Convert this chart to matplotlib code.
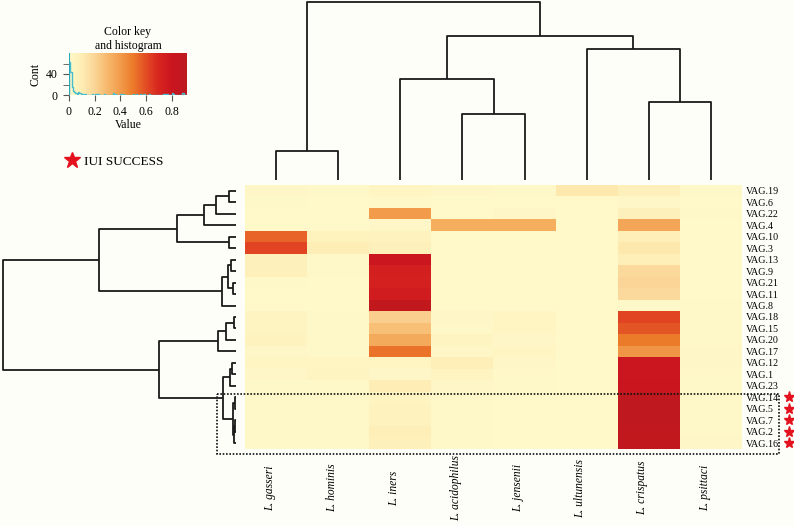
import numpy as np
import matplotlib
matplotlib.use("Agg")
import matplotlib.pyplot as plt
from matplotlib.colors import LinearSegmentedColormap
from matplotlib.lines import Line2D
from matplotlib.patches import Rectangle
import matplotlib.transforms as mtransforms

plt.rcParams['font.family'] = ['Liberation Serif', 'DejaVu Serif']

# filas (muestras) en el orden del dendrograma
samples = ['VAG.19', 'VAG.6', 'VAG.22', 'VAG.4', 'VAG.10', 'VAG.3', 'VAG.13', 'VAG.9',
           'VAG.21', 'VAG.11', 'VAG.8', 'VAG.18', 'VAG.15', 'VAG.20', 'VAG.17', 'VAG.12',
           'VAG.1', 'VAG.23', 'VAG.14', 'VAG.5', 'VAG.7', 'VAG.2', 'VAG.16']
species = ['L. gasseri', 'L. hominis', 'L. iners', 'L. acidophilus', 'L. jensenii',
           'L. ultunensis', 'L. crispatus', 'L. psittaci']

# abundancias relativas (una lista por especie, mismo orden que samples)
gasseri = [0.02, 0.01, 0.00, 0.00, 0.55, 0.62, 0.07, 0.07, 0.01, 0.00, 0.00, 0.04,
           0.04, 0.05, 0.02, 0.03, 0.02, 0.01, 0.01, 0.01, 0.01, 0.01, 0.01]
hominis = [0.01, 0.00, 0.00, 0.00, 0.06, 0.09, 0.01, 0.01, 0.00, 0.00, 0.00, 0.01,
           0.01, 0.01, 0.01, 0.03, 0.04, 0.01, 0.01, 0.01, 0.01, 0.01, 0.01]
iners = [0.03, 0.01, 0.40, 0.02, 0.05, 0.07, 0.80, 0.74, 0.73, 0.76, 0.88, 0.22,
         0.27, 0.35, 0.52, 0.03, 0.02, 0.10, 0.04, 0.05, 0.05, 0.08, 0.07]
acidophilus = [0.02, 0.00, 0.00, 0.34, 0.00, 0.00, 0.00, 0.00, 0.00, 0.00, 0.00, 0.02,
               0.01, 0.04, 0.02, 0.08, 0.04, 0.02, 0.01, 0.01, 0.01, 0.01, 0.01]
jensenii = [0.01, 0.00, 0.02, 0.34, 0.00, 0.00, 0.00, 0.00, 0.00, 0.00, 0.00, 0.03,
            0.03, 0.02, 0.03, 0.02, 0.01, 0.01, 0.00, 0.00, 0.00, 0.00, 0.00]
ultunensis = [0.12, 0.00, 0.00, 0.00, 0.00, 0.00, 0.00, 0.00, 0.00, 0.00, 0.00, 0.00,
              0.00, 0.00, 0.00, 0.00, 0.00, 0.00, 0.00, 0.00, 0.00, 0.00, 0.00]
crispatus = [0.07, 0.02, 0.07, 0.36, 0.08, 0.12, 0.08, 0.18, 0.20, 0.18, 0.01, 0.62,
             0.58, 0.50, 0.42, 0.80, 0.80, 0.81, 0.89, 0.89, 0.89, 0.88, 0.88]
psittaci = [0.01, 0.00, 0.01, 0.00, 0.00, 0.00, 0.00, 0.00, 0.00, 0.00, 0.01, 0.01,
            0.01, 0.01, 0.02, 0.02, 0.01, 0.01, 0.01, 0.01, 0.01, 0.01, 0.02]

iui_success = ['VAG.14', 'VAG.5', 'VAG.7', 'VAG.2', 'VAG.16']

# uniones de los dendrogramas: (hijo_a, hijo_b, altura); hojas = 0..n-1
col_merges = [(0, 1, 29), (3, 4, 66), (2, 9, 101), (6, 7, 78), (5, 11, 131),
              (10, 12, 144), (8, 13, 178)]
row_merges = [(0, 1, 7), (23, 2, 20), (24, 3, 32), (4, 5, 7), (25, 26, 59),
              (6, 7, 5), (8, 9, 3), (28, 29, 8), (30, 10, 14), (27, 31, 137),
              (11, 12, 2), (33, 13, 10), (34, 14, 18), (15, 16, 4), (36, 17, 6),
              (18, 19, 1), (20, 21, 1), (39, 22, 2), (38, 40, 3), (37, 41, 13),
              (35, 42, 77), (32, 43, 233)]

data = np.array([gasseri, hominis, iners, acidophilus, jensenii,
                 ultunensis, crispatus, psittaci]).T
vmax = 0.92

bg = '#FEFEF9'
cmap = LinearSegmentedColormap.from_list('key', [
    (0.0, '#FFF9CA'), (0.1 / vmax, '#FEEDB4'), (0.2 / vmax, '#FBD597'),
    (0.3 / vmax, '#F7B86B'), (0.4 / vmax, '#F29C4C'), (0.5 / vmax, '#EC7B2A'),
    (0.6 / vmax, '#E34D25'), (0.7 / vmax, '#D8261F'), (0.8 / vmax, '#CC1520'),
    (1.0, '#BC1A1E')])


def dendro(ax, merges, n, vertical):
    pos = {i: float(i) for i in range(n)}
    hgt = {i: 0.0 for i in range(n)}
    for k, (a, b, h) in enumerate(merges):
        xs = [pos[a], pos[a], pos[b], pos[b]]
        ys = [hgt[a], h, h, hgt[b]]
        if vertical:
            ax.plot(xs, ys, color='#1a1a1a', lw=1.3, clip_on=False,
                    solid_capstyle='butt')
        else:
            ax.plot(ys, xs, color='#1a1a1a', lw=1.3, clip_on=False,
                    solid_capstyle='butt')
        pos[n + k] = (pos[a] + pos[b]) / 2
        hgt[n + k] = h


fig = plt.figure(figsize=(7.94, 5.25), dpi=100, facecolor=bg)
W, H = 794, 525


def px(x0, y0, x1, y1):
    return [x0 / W, 1 - y1 / H, (x1 - x0) / W, (y1 - y0) / H]


# heatmap
ax = fig.add_axes(px(245, 185, 742, 449))
ax.imshow(data, cmap=cmap, vmin=0, vmax=vmax, aspect='auto',
          interpolation='nearest')
ax.set_xticks([])
lab_trans = mtransforms.blended_transform_factory(ax.transData, ax.transAxes)
for i, sp in enumerate(species):
    ax.text(i - 0.1, -39 / 264, sp, rotation=90, fontsize=8.3, style='italic',
            ha='center', va='center', transform=lab_trans)
ax.set_yticks(range(len(samples)))
ax.set_yticklabels(samples, fontsize=7.2)
ax.yaxis.tick_right()
ax.tick_params(length=0, pad=3)
for s in ax.spines.values():
    s.set_visible(False)

# estrellas y recuadro punteado
trans = mtransforms.blended_transform_factory(ax.transAxes, ax.transData)
rows_ok = [samples.index(s) for s in iui_success]
ax.plot([1.095] * len(rows_ok), rows_ok, ls='', marker='*', ms=8,
        color='#E3121E', transform=trans, clip_on=False)
ax.add_patch(Rectangle((-0.056, min(rows_ok) - 0.3), 1.13, len(rows_ok) + 0.25,
                       transform=trans, fill=False, ls=(0, (1, 1)), lw=1.2,
                       ec='#111111', clip_on=False))
ax.set_xlim(-0.5, len(species) - 0.5)
ax.set_ylim(len(samples) - 0.5, -0.5)

# dendrograma de columnas
axc = fig.add_axes(px(245, 0, 742, 180), facecolor='none')
dendro(axc, col_merges, len(species), True)
axc.set_xlim(-0.5, len(species) - 0.5)
axc.set_ylim(0, 180)
axc.axis('off')

# dendrograma de filas
axr = fig.add_axes(px(0, 185, 236, 449), facecolor='none')
dendro(axr, row_merges, len(samples), False)
axr.set_xlim(236, 0)
axr.set_ylim(len(samples) - 0.5, -0.5)
axr.axis('off')

# clave de color e histograma
axk = fig.add_axes(px(69, 53, 187, 95))
grad = np.linspace(0, vmax, 256).reshape(1, -1)
axk.imshow(grad, cmap=cmap, vmin=0, vmax=vmax, aspect='auto',
           extent=[0, vmax, 0, 80], origin='lower')
counts, edges = np.histogram(data.ravel(), bins=np.linspace(0, vmax, 93))
axk.stairs(counts, edges, color='#45BFD0', lw=1.0, baseline=0, clip_on=True)
axk.plot([0, 0], [0, 80], color='#2AA8B8', lw=1.5)
axk.set_xlim(0, vmax)
axk.set_ylim(0, 80)
axk.set_xticks([0, 0.2, 0.4, 0.6, 0.8])
axk.set_xticklabels(['0', '0.2', '0.4', '0.6', '0.8'], fontsize=8.5)
axk.set_yticks([0, 40])
axk.set_yticks([20, 60], minor=True)
axk.set_yticklabels(['0', '40'], fontsize=8.5)
axk.tick_params(length=4, color='#555555', pad=4)
axk.tick_params(which='minor', length=4, color='#555555')
for s in axk.spines.values():
    s.set_visible(False)
axk.set_xlabel('Value', fontsize=8.5, labelpad=1)
axk.set_ylabel('Cont', fontsize=8.5, labelpad=3)
axk.set_title('Color key\nand histogram', fontsize=8.5, pad=3, linespacing=1.25)

star = Line2D([], [], ls='', marker='*', ms=12, color='#E3121E')
fig.legend([star], ['IUI SUCCESS'], loc='center left', frameon=False,
           bbox_to_anchor=(52 / W, 1 - 162 / H), fontsize=9.5, handletextpad=0.3,
           handlelength=1.2)

fig.savefig('out.png', dpi=100, facecolor=bg)
